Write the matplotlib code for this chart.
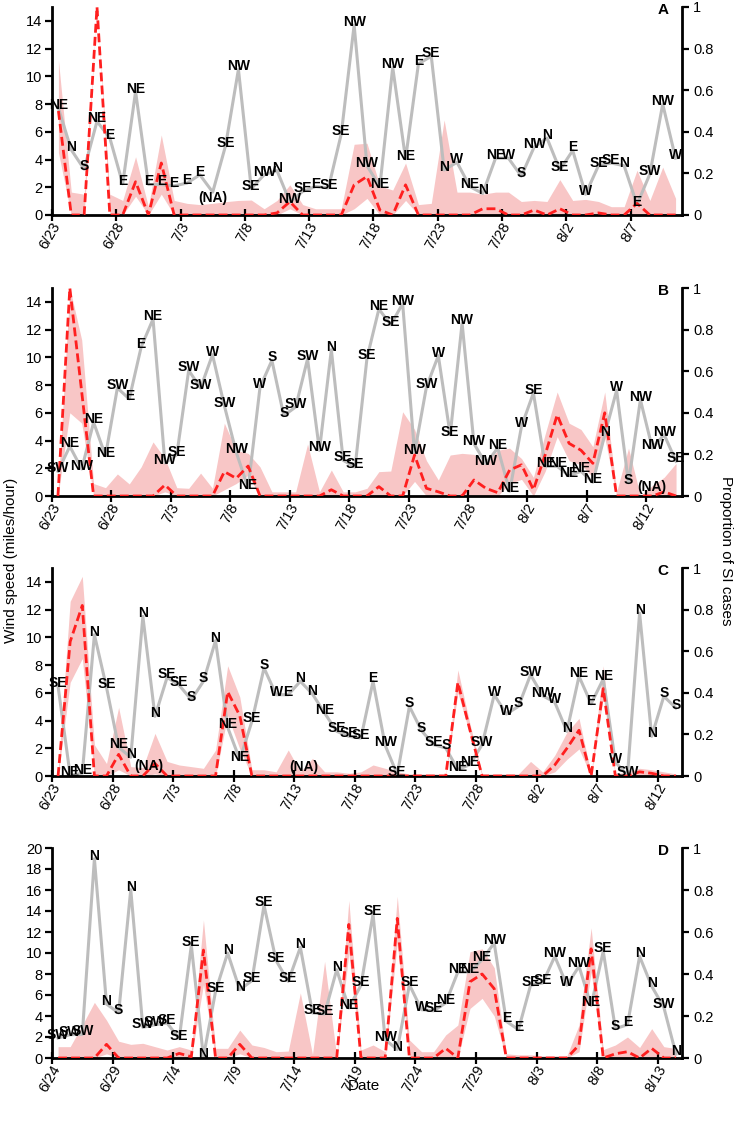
import numpy as np
import matplotlib
matplotlib.use('Agg')
import matplotlib.pyplot as plt
from matplotlib.transforms import ScaledTranslation

plt.rcParams['font.family'] = ['Liberation Sans', 'DejaVu Sans']

# ---------------- data ----------------
# Panel A  (6/23 - 8/10)
windA = [7.7, 4.7, 3.3, 6.75, 5.55, 2.25, 8.9, 2.2, 2.2, 2.1, 2.3, 2.9, 1.65, 5.0, 10.5,
         1.9, 2.9, 3.2, 0.95, 1.7, 2.05, 1.95, 5.85, 13.7, 3.55, 2.05, 10.65, 4.05, 10.9,
         11.45, 3.25, 3.8, 2.05, 1.55, 4.1, 4.1, 2.8, 4.9, 5.55, 3.25, 4.65, 1.5, 3.55,
         3.75, 3.55, 0.75, 2.95, 8.0, 4.1]
dirA = ['NE', 'N', 'S', 'NE', 'E', 'E', 'NE', 'E', 'E', 'E', 'E', 'E', '', 'SE', 'NW',
        'SE', 'NW', 'N', 'NW', 'SE', 'E', 'SE', 'SE', 'NW', 'NW', 'NE', 'NW', 'NE', 'E',
        'SE', 'N', 'W', 'NE', 'N', 'NE', 'W', 'S', 'NW', 'N', 'SE', 'E', 'W', 'SE', 'SE',
        'N', 'E', 'SW', 'NW', 'W']
propA = [0.5, 0, 0, 1.0, 0, 0, 0.16, 0, 0.25, 0, 0, 0, 0, 0, 0, 0, 0, 0.01, 0.064, 0,
         0, 0, 0, 0.145, 0.185, 0.024, 0, 0.145, 0, 0, 0, 0, 0, 0.03, 0.03, 0, 0, 0.024,
         0, 0.03, 0, 0, 0.01, 0, 0, 0.056, 0, 0, 0]
upA = [0.745, 0.11, 0.10, 1.0, 0.10, 0.07, 0.28, 0.04, 0.385, 0.07, 0.056, 0.05, 0.056,
       0.064, 0.07, 0.072, 0.03, 0.07, 0.145, 0.05, 0.03, 0.03, 0.03, 0.34, 0.345, 0.14,
       0.12, 0.25, 0.05, 0.056, 0.457, 0.11, 0.11, 0.10, 0.11, 0.11, 0.065, 0.07, 0.065,
       0.17, 0.07, 0.075, 0.065, 0.04, 0.04, 0.215, 0.07, 0.23, 0.08]
loA = [0.3, 0, 0, 1.0, 0, 0, 0.09, 0, 0.10, 0, 0, 0, 0, 0, 0, 0, 0, 0, 0.03, 0, 0, 0, 0,
       0.03, 0.08, 0, 0, 0.07, 0, 0, 0, 0, 0, 0, 0, 0, 0, 0, 0, 0, 0, 0, 0, 0, 0, 0, 0, 0, 0]
ticksA = ['6/23', '6/28', '7/3', '7/8', '7/13', '7/18', '7/23', '7/28', '8/2', '8/7']
naA_day, naA_lvl = [12], [1.2]

# Panel B  (6/23 - 8/14)
windB = [1.78, 3.58, 1.95, 5.31, 2.9, 7.79, 7.0, 10.74, 12.76, 2.38, 2.98, 9.06, 7.79,
         10.19, 6.51, 3.15, 0.58, 7.84, 9.78, 5.79, 6.42, 9.88, 3.29, 10.55, 2.57, 2.09,
         9.95, 13.48, 12.35, 13.87, 3.1, 7.86, 10.12, 4.42, 12.47, 3.77, 2.33, 3.46, 0.34,
         5.03, 7.43, 2.14, 2.14, 1.46, 1.78, 0.99, 4.42, 7.62, 0.94, 6.94, 3.46, 4.42, 2.5]
dirB = ['SW', 'NE', 'NW', 'NE', 'NE', 'SW', 'E', 'E', 'NE', 'NW', 'SE', 'SW', 'SW', 'W',
        'SW', 'NW', 'NE', 'W', 'S', 'S', 'SW', 'SW', 'NW', 'N', 'SE', 'SE', 'SE', 'NE',
        'SE', 'NW', 'NW', 'SW', 'W', 'SE', 'NW', 'NW', 'NW', 'NE', 'NE', 'W', 'SE', 'NE',
        'NE', 'NE', 'NE', 'NE', 'N', 'W', 'S', 'NW', 'NW', 'NW', 'SE']
propB = [0, 1.0, 0.5, 0, 0, 0, 0, 0, 0, 0.053, 0, 0, 0, 0, 0.117, 0.085, 0.144, 0, 0, 0,
         0, 0, 0, 0.03, 0, 0, 0, 0.045, 0, 0, 0.197, 0.037, 0.02, 0, 0, 0.077, 0.037,
         0.016, 0.125, 0.15, 0.03, 0.2, 0.39, 0.253, 0.22, 0.157, 0.40, 0, 0, 0, 0, 0.02, 0]
upB = [0.02, 1.0, 0.75, 0.06, 0.04, 0.106, 0.058, 0.14, 0.26, 0.18, 0.04, 0.037, 0.11,
       0.037, 0.35, 0.22, 0.205, 0.14, 0.02, 0.02, 0.02, 0.25, 0.02, 0.125, 0.02, 0.02,
       0.037, 0.117, 0.12, 0.405, 0.32, 0.17, 0.077, 0.197, 0.205, 0.2, 0.157, 0.22, 0.23,
       0.18, 0.09, 0.3, 0.50, 0.35, 0.32, 0.237, 0.50, 0.02, 0.23, 0.0, 0.05, 0.09, 0.157]
loB = [0, 0.40, 0.35, 0, 0, 0, 0, 0, 0, 0.02, 0, 0, 0, 0, 0.03, 0.06, 0.1, 0, 0, 0, 0,
       0, 0, 0, 0, 0, 0, 0, 0, 0, 0.07, 0, 0, 0, 0, 0, 0, 0, 0.06, 0.08, 0, 0.12, 0.285,
       0.17, 0.15, 0.09, 0.28, 0, 0, 0, 0, 0, 0]
ticksB = ['6/23', '6/28', '7/3', '7/8', '7/13', '7/18', '7/23', '7/28', '8/2', '8/7', '8/12']
naB_day, naB_lvl = [50], [0.67]

# Panel C  (6/23 - 8/13)
windC = [6.47, 0.05, 0.2, 10.19, 6.39, 2.07, 1.35, 11.51, 4.3, 7.11, 6.54, 5.5, 6.83,
         9.76, 3.51, 1.18, 3.94, 7.79, 5.86, 5.86, 6.83, 5.91, 4.54, 3.22, 2.86, 2.74,
         6.83, 2.21, 0.1, 5.02, 3.27, 2.26, 2.02, 0.46, 0.82, 2.26, 5.86, 4.47, 5.02, 7.3,
         5.79, 5.31, 3.22, 7.19, 5.21, 6.99, 1.0, 0.05, 11.75, 2.86, 5.75, 4.9]
dirC = ['SE', 'NE', 'NE', 'N', 'SE', 'NE', 'N', 'N', 'N', 'SE', 'SE', 'S', 'S', 'N', 'NE',
        'NE', 'SE', 'S', 'W', 'E', 'N', 'N', 'NE', 'SE', 'SE', 'SE', 'E', 'NW', 'SE', 'S',
        'S', 'SE', 'S', 'NE', 'NE', 'SW', 'W', 'W', 'S', 'SW', 'NW', 'W', 'N', 'NE', 'E',
        'NE', 'W', 'SW', 'N', 'N', 'S', 'S']
propC = [0, 0.646, 0.82, 0, 0, 0.104, 0, 0, 0.06, 0, 0, 0, 0, 0, 0.405, 0.29, 0, 0, 0, 0,
         0, 0, 0, 0, 0, 0, 0, 0, 0, 0, 0, 0, 0, 0.45, 0.22, 0, 0, 0, 0, 0, 0, 0.053, 0.133,
         0.22, 0, 0.42, 0, 0, 0.02, 0.013, 0, 0]
upC = [0.02, 0.84, 0.96, 0.15, 0.06, 0.33, 0.045, 0.04, 0.205, 0.07, 0.053, 0.045, 0.037,
       0.125, 0.53, 0.38, 0.03, 0.03, 0.02, 0.125, 0.02, 0.085, 0.02, 0.02, 0.013, 0.02,
       0.053, 0.037, 0.02, 0.01, 0.01, 0.01, 0.01, 0.51, 0.25, 0.01, 0.01, 0.01, 0.01,
       0.07, 0.02, 0.1, 0.21, 0.277, 0.01, 0.53, 0.01, 0.02, 0.037, 0.03, 0.02, 0.01]
loC = [0, 0.45, 0.565, 0, 0, 0.03, 0, 0, 0.01, 0, 0, 0, 0, 0, 0.29, 0.13, 0, 0, 0, 0, 0,
       0, 0, 0, 0, 0, 0, 0, 0, 0, 0, 0, 0, 0.4, 0.2, 0, 0, 0, 0, 0, 0, 0.02, 0.08, 0.13,
       0, 0.38, 0, 0, 0, 0, 0, 0]
ticksC = ['6/23', '6/28', '7/3', '7/8', '7/13', '7/18', '7/23', '7/28', '8/2', '8/7', '8/12']
naC_day, naC_lvl = [7.46, 20.27], [0.74, 0.63]

# Panel D  (6/24 - 8/14)
windD = [1.9, 2.22, 2.25, 18.98, 5.14, 4.29, 16.03, 2.92, 3.17, 3.33, 1.84, 10.73, 0.1,
         6.35, 10.0, 6.5, 7.37, 14.54, 9.27, 7.3, 10.54, 4.29, 4.2, 8.41, 4.76, 6.92,
         13.71, 1.75, 0.8, 6.98, 4.6, 4.5, 5.24, 8.19, 8.19, 9.37, 10.95, 3.49, 2.7, 6.92,
         7.14, 9.68, 6.92, 8.73, 5.0, 10.16, 2.79, 3.17, 9.68, 6.83, 4.83, 0.38]
dirD = ['SW', 'SW', 'SW', 'N', 'N', 'S', 'N', 'SW', 'SW', 'SE', 'SE', 'SE', 'N', 'SE', 'N',
        'N', 'SE', 'SE', 'SE', 'SE', 'N', 'SE', 'SE', 'N', 'NE', 'SE', 'SE', 'NW', 'N', 'SE',
        'W', 'SE', 'NE', 'NE', 'NE', 'NE', 'NW', 'E', 'E', 'SE', 'SE', 'NW', 'W', 'NW',
        'NE', 'SE', 'S', 'E', 'N', 'N', 'SW', 'N']
propD = [0, 0, 0, 0, 0.065, 0, 0, 0, 0, 0, 0.022, 0.006, 0.514, 0, 0, 0.065, 0, 0, 0, 0,
         0, 0, 0, 0, 0.636, 0, 0, 0, 0.665, 0, 0, 0, 0.046, 0, 0.363, 0.40, 0.33, 0, 0, 0,
         0, 0, 0, 0.062, 0.52, 0, 0.02, 0.03, 0, 0.046, 0, 0]
upD = [0.054, 0.054, 0.157, 0.265, 0.18, 0.08, 0.065, 0.07, 0.054, 0.038, 0.054, 0.038,
       0.657, 0.046, 0.046, 0.133, 0.062, 0.05, 0.03, 0.033, 0.31, 0.017, 0.46, 0.006,
       0.75, 0.038, 0.062, 0.03, 0.77, 0.086, 0.03, 0.03, 0.11, 0.157, 0.506, 0.52, 0.43,
       0.02, 0.015, 0.015, 0.01, 0.01, 0.01, 0.157, 0.62, 0.04, 0.062, 0.10, 0.05, 0.14,
       0.054, 0.045]
loD = [0, 0, 0, 0, 0.02, 0, 0, 0, 0, 0, 0, 0, 0.35, 0, 0, 0.02, 0, 0, 0, 0, 0, 0, 0, 0,
       0.5, 0, 0, 0, 0.55, 0, 0, 0, 0, 0, 0.236, 0.284, 0.2, 0, 0, 0, 0, 0, 0, 0.03, 0.41,
       0, 0, 0, 0, 0, 0, 0]
ticksD = ['6/24', '6/29', '7/4', '7/9', '7/14', '7/19', '7/24', '7/29', '8/3', '8/8', '8/13']

panels = [
    ('A', windA, dirA, propA, loA, upA, ticksA, 15, naA_day, naA_lvl),
    ('B', windB, dirB, propB, loB, upB, ticksB, 15, naB_day, naB_lvl),
    ('C', windC, dirC, propC, loC, upC, ticksC, 15, naC_day, naC_lvl),
    ('D', windD, dirD, propD, loD, upD, ticksD, 20, [], []),
]

# ---------------- layout ----------------
W, H = 736, 1122
fig = plt.figure(figsize=(W / 100, H / 100), dpi=100)
left, right = 52, 682
rects = [(7, 215), (288, 496), (568, 776), (848, 1058)]

GREY = '#bdbdbd'
RED = '#ff1f1f'
PINK = '#f8c6c6'
FS = 10.5
shift = ScaledTranslation(5 / 100, 0, fig.dpi_scale_trans)

for (name, wind, dirs, prop, lo, up, tlabels, ymax, na_d, na_l), (top, bot) in zip(panels, rects):
    ax1 = fig.add_axes([left / W, 1 - bot / H, (right - left) / W, (bot - top) / H])
    axb = ax1.twinx()
    axr = ax1.twinx()
    axb.set_zorder(0)
    ax1.set_zorder(1)
    axr.set_zorder(2)
    for a in (ax1, axb, axr):
        a.patch.set_visible(False)

    n = len(wind)
    x = np.arange(n)

    axb.fill_between(x, lo, up, color=PINK, lw=0)
    ax1.plot(x, wind, color=GREY, lw=2.2)
    axr.plot(x, prop, color=RED, lw=2.0, ls=(0, (3.2, 1.5)))

    ax1.set_xlim(-0.5, n - 0.5)
    ax1.set_ylim(0, ymax)
    axb.set_ylim(0, 1)
    axr.set_ylim(0, 1)

    # direction labels
    for i, (w, d) in enumerate(zip(wind, dirs)):
        if d:
            axr.annotate(d, xy=(i, w), xycoords=ax1.transData, xytext=(0, 2.2),
                         textcoords='offset points', ha='center', va='center',
                         fontsize=10, fontweight='bold', color='black',
                         annotation_clip=False)
    for d, l in zip(na_d, na_l):
        axr.annotate('(NA)', xy=(d, l), xycoords=ax1.transData, ha='center',
                     va='center', fontsize=10, fontweight='bold', color='black',
                     annotation_clip=False)

    # spines
    for s in ('top', 'right'):
        ax1.spines[s].set_visible(False)
    for s in ('top', 'left', 'bottom'):
        axb.spines[s].set_visible(False)
    for s in axr.spines.values():
        s.set_visible(False)
    axr.set_yticks([])
    ax1.spines['left'].set_linewidth(2)
    ax1.spines['bottom'].set_linewidth(2)
    axb.spines['right'].set_linewidth(2)

    ax1.set_yticks(np.arange(0, ymax + 0.1, 2))
    ax1.tick_params(axis='y', direction='out', length=5, width=1.6, labelsize=FS, pad=2)
    axb.set_yticks([0, 0.2, 0.4, 0.6, 0.8, 1])
    axb.set_yticklabels(['0', '0.2', '0.4', '0.6', '0.8', '1'])
    axb.tick_params(axis='y', direction='out', length=5, width=1.6, labelsize=FS, pad=3)

    tpos = np.arange(len(tlabels)) * 5 - 0.5
    ax1.set_xticks(tpos)
    ax1.set_xticklabels(tlabels, rotation=60, ha='right', va='center',
                        rotation_mode='anchor', fontsize=FS)
    ax1.tick_params(axis='x', direction='inout', length=8, width=1.6, pad=2)
    for lab in ax1.get_xticklabels():
        lab.set_transform(lab.get_transform() + shift)

    ax1.text(0.97, 0.985, name, transform=ax1.transAxes, ha='center', va='center',
             fontsize=11, fontweight='bold')

fig.text(11 / W, 1 - 560 / H, 'Wind speed (miles/hour)', rotation=90, ha='center',
         va='center', fontsize=11)
fig.text(726 / W, 1 - 551 / H, 'Proportion of SI cases', rotation=270, ha='center',
         va='center', fontsize=11)
fig.text(364 / W, 1 - 1086 / H, 'Date', ha='center', va='center', fontsize=11)

fig.savefig('out.png', dpi=100)
